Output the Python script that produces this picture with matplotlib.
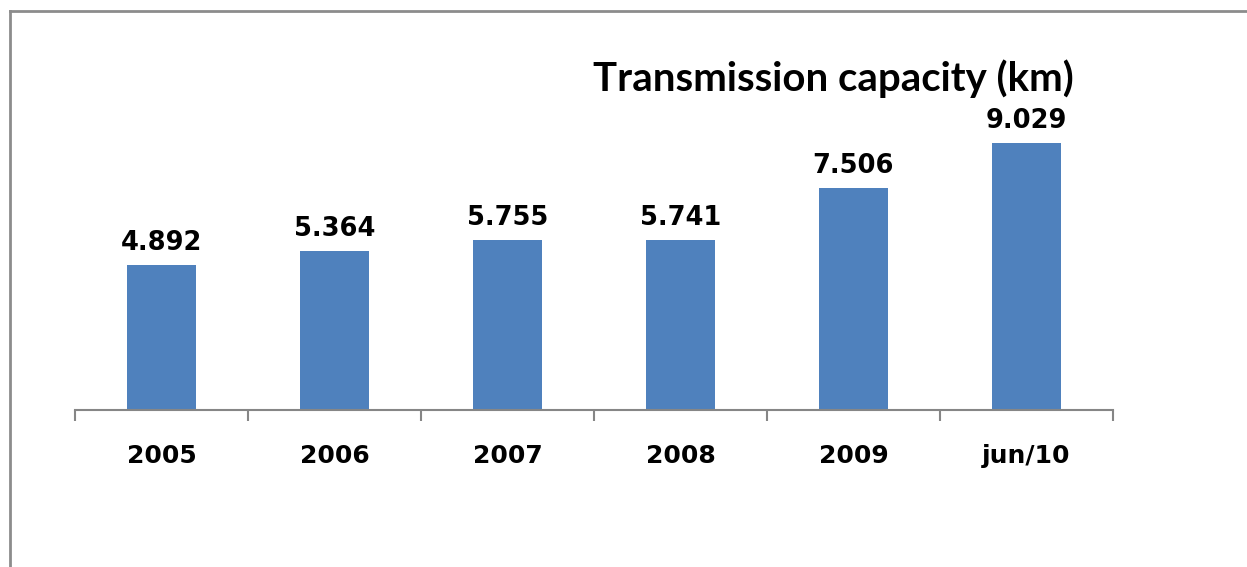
import numpy as np
import matplotlib.pyplot as plt
from matplotlib.lines import Line2D

categories = ["2005", "2006", "2007", "2008", "2009", "jun/10"]
capacity = [4.892, 5.364, 5.755, 5.741, 7.506, 9.029]
labels = ["4.892", "5.364", "5.755", "5.741", "7.506", "9.029"]

W, H = 1247, 567
fig = plt.figure(figsize=(W / 100, H / 100), dpi=100)
ax = fig.add_axes([75 / W, 1 - 410 / H, (1113 - 75) / W, (410 - 114) / H])

x = np.arange(len(categories))
ax.bar(x, capacity, width=0.4, color="#4F81BD", zorder=2)
for xi, v, t in zip(x, capacity, labels):
    ax.annotate(t, (xi, v), xytext=(0, 6.5), textcoords="offset points",
                ha="center", va="bottom", fontsize=18.5, fontweight="bold")

ax.set_xlim(-0.5, len(categories) - 0.5)
ax.set_ylim(0, 10)
for s in ["top", "right", "left"]:
    ax.spines[s].set_visible(False)
ax.spines["bottom"].set_color("#868686")
ax.spines["bottom"].set_linewidth(1.5)
ax.set_yticks([])

# tick marks sit between categories, labels at the centres
ax.set_xticks(np.arange(len(categories) + 1) - 0.5)
ax.set_xticklabels([])
ax.tick_params(axis="x", length=8, width=1.5, color="#868686", direction="out")
ax.set_xticks(x, minor=True)
ax.set_xticklabels(categories, minor=True, fontsize=18, fontweight="bold")
ax.tick_params(axis="x", which="minor", length=0, pad=24.5)

fig.text(833 / W, 1 - 91 / H, "Transmission capacity (km)", ha="center",
         va="baseline", fontsize=28.9, fontweight="bold", family="Lato")

# chart border, only top and left edges fall inside the image
fig.add_artist(Line2D([10 / W, 1], [1 - 11 / H, 1 - 11 / H], color="#8c8c8c", lw=2))
fig.add_artist(Line2D([10 / W, 10 / W], [0, 1 - 11 / H], color="#8c8c8c", lw=2))

fig.savefig("out.png", dpi=100)
